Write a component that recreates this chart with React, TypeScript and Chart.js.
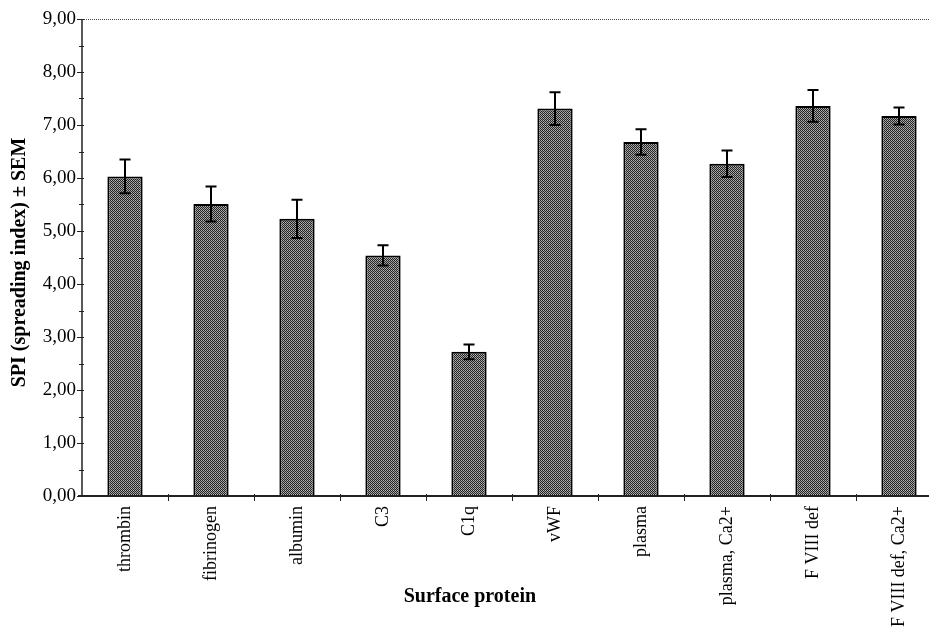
import React, { useEffect, useRef } from "react";
import { Chart, registerables } from "chart.js";

Chart.register(...registerables);

const categories = [
  "thrombin",
  "fibrinogen",
  "albumin",
  "C3",
  "C1q",
  "vWF",
  "plasma",
  "plasma, Ca2+",
  "F VIII def",
  "F VIII def, Ca2+",
];
const spiValues = [6.03, 5.51, 5.23, 4.54, 2.72, 7.31, 6.68, 6.27, 7.36, 7.17];
const semValues = [0.32, 0.33, 0.36, 0.19, 0.14, 0.31, 0.24, 0.25, 0.3, 0.16];
const yTickLabels = ["0,00", "1,00", "2,00", "3,00", "4,00", "5,00", "6,00", "7,00", "8,00", "9,00"];
const xTitle = "Surface protein";
const yTitle = "SPI (spreading index) \u00b1 SEM";

const FONT = "'Liberation Serif', 'Times New Roman', serif";

function makePattern(): CanvasPattern | string {
  const c = document.createElement("canvas");
  c.width = 2;
  c.height = 2;
  const g = c.getContext("2d");
  if (!g) return "#555";
  g.fillStyle = "#222222";
  g.fillRect(0, 0, 1, 1);
  g.fillRect(1, 1, 1, 1);
  g.fillStyle = "#b4b4b4";
  g.fillRect(1, 0, 1, 1);
  g.fillStyle = "#989898";
  g.fillRect(0, 1, 1, 1);
  const p = g.createPattern(c, "repeat");
  return p || "#555";
}

const decorPlugin = {
  id: "decor",
  afterDatasetsDraw(chart: any) {
    const ctx = chart.ctx;
    const area = chart.chartArea;
    const x = chart.scales.x;
    const y = chart.scales.y;
    ctx.save();
    // error bars
    ctx.strokeStyle = "#000";
    ctx.lineWidth = 2;
    spiValues.forEach((v, i) => {
      const cx = x.getPixelForValue(i);
      const top = y.getPixelForValue(v + semValues[i]);
      const bot = y.getPixelForValue(v - semValues[i]);
      ctx.beginPath();
      ctx.moveTo(cx, top);
      ctx.lineTo(cx, bot);
      ctx.moveTo(cx - 5.5, top);
      ctx.lineTo(cx + 5.5, top);
      ctx.moveTo(cx - 5.5, bot);
      ctx.lineTo(cx + 5.5, bot);
      ctx.stroke();
    });
    // top dotted line
    ctx.strokeStyle = "#444";
    ctx.lineWidth = 1;
    ctx.setLineDash([1, 1]);
    ctx.beginPath();
    ctx.moveTo(area.left, y.getPixelForValue(9) + 0.5);
    ctx.lineTo(chart.width, y.getPixelForValue(9) + 0.5);
    ctx.stroke();
    ctx.setLineDash([]);
    // y axis line
    ctx.strokeStyle = "#222";
    ctx.lineWidth = 1.5;
    ctx.beginPath();
    ctx.moveTo(area.left, area.top);
    ctx.lineTo(area.left, area.bottom);
    ctx.stroke();
    // x axis line
    ctx.lineWidth = 2;
    ctx.beginPath();
    ctx.moveTo(area.left - 4, area.bottom);
    ctx.lineTo(chart.width, area.bottom);
    ctx.stroke();
    // y ticks
    ctx.lineWidth = 1;
    for (let k = 0; k <= 18; k++) {
      const v = k / 2;
      const py = Math.round(y.getPixelForValue(v)) + 0.5;
      const major = k % 2 === 0;
      ctx.beginPath();
      ctx.moveTo(area.left - (major ? 5 : 3), py);
      ctx.lineTo(area.left + 2, py);
      ctx.stroke();
    }
    // x ticks at category boundaries
    for (let i = 1; i <= categories.length; i++) {
      const px = Math.round((x.getPixelForValue(i - 1) + x.getPixelForValue(i)) / 2) + 0.5;
      ctx.beginPath();
      ctx.moveTo(px, area.bottom - 2);
      ctx.lineTo(px, area.bottom + 5);
      ctx.stroke();
    }
    // titles
    ctx.fillStyle = "#000";
    ctx.font = `bold 20px ${FONT}`;
    ctx.textAlign = "center";
    ctx.textBaseline = "middle";
    ctx.fillText(xTitle, area.left + area.width * 0.451, 597);
    ctx.translate(20, (area.top + area.bottom) / 2 + 5);
    ctx.rotate(-Math.PI / 2);
    ctx.fillText(yTitle, 0, 0);
    ctx.restore();
  },
};

export default function App() {
  const ref = useRef<HTMLCanvasElement | null>(null);
  useEffect(() => {
    if (!ref.current) return;
    const pattern = makePattern();
    const chart = new Chart(ref.current, {
      type: "bar",
      data: {
        labels: categories,
        datasets: [
          {
            data: spiValues,
            backgroundColor: pattern as any,
            borderColor: "#000",
            borderWidth: 2,
            borderSkipped: "bottom",
            categoryPercentage: 1,
            barPercentage: 0.41,
          },
        ],
      },
      options: {
        animation: false,
        responsive: false,
        devicePixelRatio: 1,
        layout: { padding: { left: 0, right: 18, top: 19, bottom: 0 } },
        plugins: { legend: { display: false }, tooltip: { enabled: false } },
        scales: {
          x: {
            grid: { display: false, drawTicks: false },
            border: { display: false },
            ticks: {
              color: "#000",
              font: { family: FONT, size: 18 },
              minRotation: 90,
              maxRotation: 90,
              padding: 10,
              autoSkip: false,
            },
            afterFit: (s: any) => {
              s.height = 132;
            },
          },
          y: {
            min: 0,
            max: 9,
            grid: { display: false, drawTicks: false },
            border: { display: false },
            ticks: {
              stepSize: 1,
              color: "#000",
              font: { family: FONT, size: 19 },
              padding: 6,
              callback: (v: any) => yTickLabels[Math.round(Number(v))] ?? "",
            },
            afterFit: (s: any) => {
              s.width = 82;
            },
          },
        },
      },
      plugins: [decorPlugin],
    });
    return () => chart.destroy();
  }, []);
  return (
    <div
      style={{
        position: "fixed",
        left: 0,
        top: 0,
        width: 929,
        height: 628,
        overflow: "hidden",
        background: "#fff",
      }}
    >
      <canvas ref={ref} width={960} height={628} style={{ display: "block" }} />
    </div>
  );
}
